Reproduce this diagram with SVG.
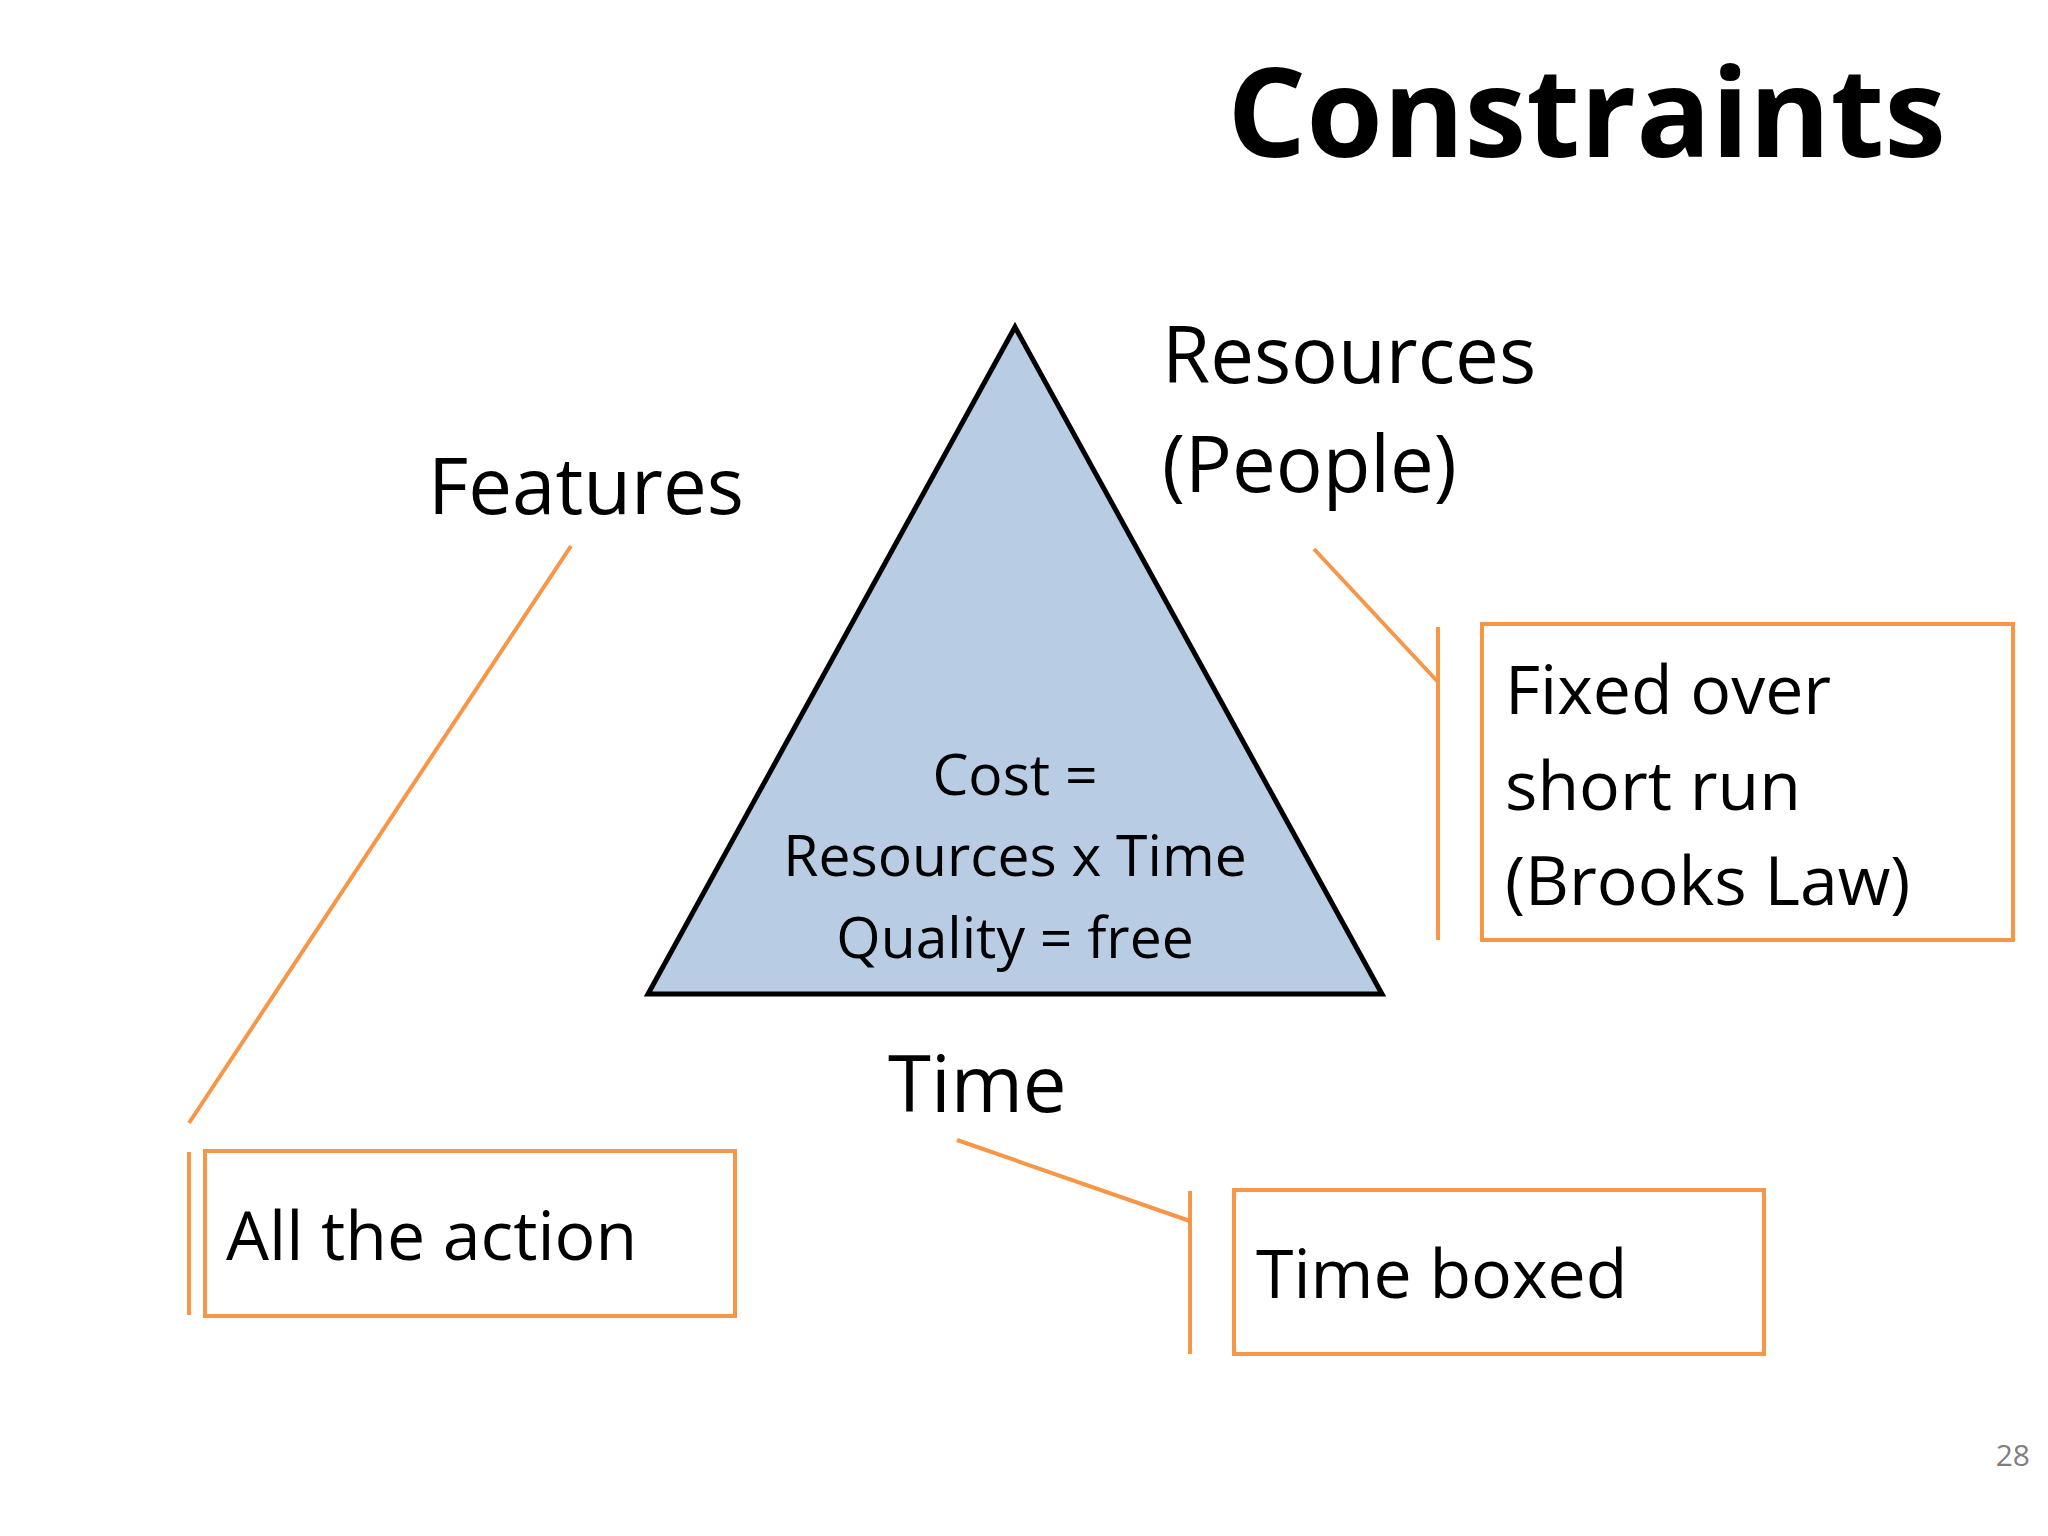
<svg xmlns="http://www.w3.org/2000/svg" width="2048" height="1536" viewBox="0 0 2048 1536">
<style>
text{font-family:"Open Sans","Noto Sans",sans-serif;fill:#000}
.o{stroke:#f79646;stroke-width:4;fill:none}
.b{font-size:68px}
</style>
<rect width="2048" height="1536" fill="#fff"/>
<text x="1946" y="157" font-size="124" font-weight="bold" text-anchor="end">Constraints</text>
<g id="triangle">
<polygon points="1015,327 648,994 1382,994" fill="#b8cce4" stroke="#000" stroke-width="5"/>
<text x="1015" y="795" font-size="57" text-anchor="middle">Cost =</text>
<text x="1015" y="876" font-size="57" text-anchor="middle">Resources x Time</text>
<text x="1015" y="958" font-size="57" text-anchor="middle">Quality = free</text>
</g>
<g id="labels">
<text x="428" y="514" font-size="78">Features</text>
<text x="1162" y="383" font-size="78">Resources</text>
<text x="1162" y="492" font-size="78">(People)</text>
<text x="888" y="1112" font-size="78">Time</text>
</g>
<g id="connectors">
<line class="o" x1="571" y1="546" x2="189" y2="1123"/>
<line class="o" x1="189" y1="1152" x2="189" y2="1315"/>
<line class="o" x1="1314" y1="549" x2="1438" y2="682"/>
<line class="o" x1="1438" y1="627" x2="1438" y2="940"/>
<line class="o" x1="957" y1="1140" x2="1190" y2="1221"/>
<line class="o" x1="1190" y1="1191" x2="1190" y2="1354"/>
</g>
<g id="box-action">
<rect class="o" x="205" y="1151" width="530" height="165"/>
<text class="b" x="226" y="1260">All the action</text>
</g>
<g id="box-fixed">
<rect class="o" x="1482" y="624" width="531" height="316"/>
<text class="b" x="1505" y="714">Fixed over</text>
<text class="b" x="1505" y="810">short run</text>
<text class="b" x="1505" y="905">(Brooks Law)</text>
</g>
<g id="box-time">
<rect class="o" x="1234" y="1190" width="530" height="164"/>
<text class="b" x="1256" y="1298">Time boxed</text>
</g>
<text x="2030" y="1466" font-size="30" fill="#7f7f7f" style="fill:#7f7f7f" text-anchor="end">28</text>
</svg>
